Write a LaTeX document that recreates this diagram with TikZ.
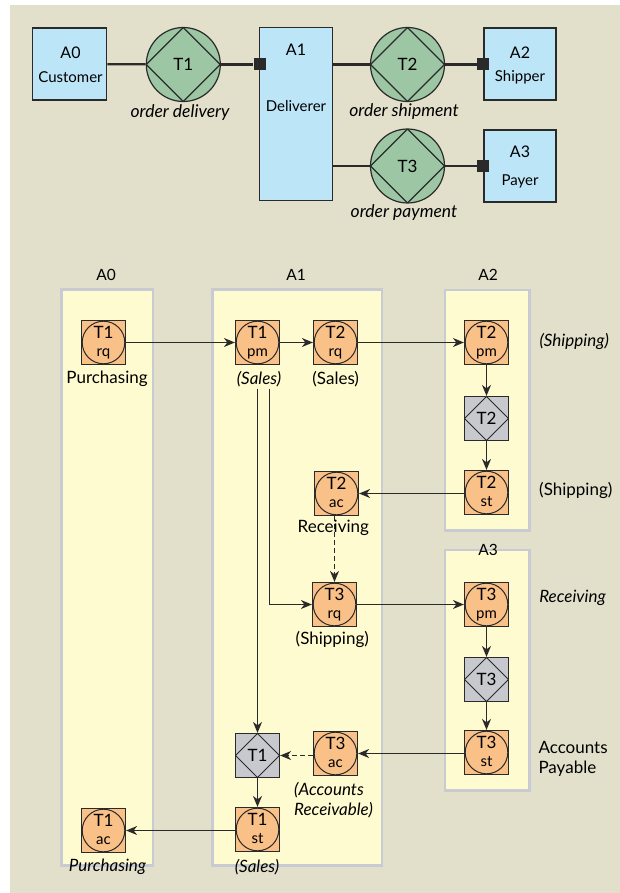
\documentclass[tikz,border=0pt]{standalone}
\usepackage{fontspec}
\setmainfont{Lato}
\usetikzlibrary{arrows.meta,shapes.geometric}
\definecolor{bgbeige}{HTML}{E2DFCB}
\definecolor{boxblue}{HTML}{BDE5F8}
\definecolor{transgreen}{HTML}{9DC7A4}
\definecolor{actorange}{HTML}{F9C087}
\definecolor{diagrey}{HTML}{C8C9CE}
\definecolor{laneyellow}{HTML}{FFFBD0}
\definecolor{laneborder}{HTML}{C8CBD2}
\definecolor{ink}{HTML}{2A2A2A}
\newcommand\actlbl[2]{#1\\{\fontsize{15}{15}\selectfont #2\vphantom{pq}}}
\begin{document}
\begin{tikzpicture}[x=1pt,y={(0pt,-1pt)},
  topline/.style={draw=ink, line width=2.2pt},
  actorbox/.style={draw=ink, line width=1.6pt, fill=boxblue, inner sep=0pt},
  trans/.style={circle, draw=ink, line width=1.2pt, fill=transgreen, minimum size=74pt, inner sep=0pt,
    font=\fontsize{17}{20}\selectfont,
    path picture={\draw[ink, line width=1.2pt] (path picture bounding box.north) -- (path picture bounding box.east) -- (path picture bounding box.south) -- (path picture bounding box.west) -- cycle;}},
  connsq/.style={rectangle, fill=ink, minimum size=12pt, inner sep=0pt},
  act/.style={rectangle, draw=ink, line width=1.2pt, fill=actorange, minimum size=44pt, inner sep=0pt, align=center,
    font=\fontsize{17}{18}\selectfont,
    path picture={\draw[ink, line width=1pt] (path picture bounding box.center) circle (21.3pt);}},
  dia/.style={rectangle, draw=ink, line width=1.2pt, fill=diagrey, minimum size=44pt, inner sep=0pt,
    font=\fontsize{17}{18}\selectfont,
    path picture={\draw[ink, line width=1pt] (path picture bounding box.north) -- (path picture bounding box.east) -- (path picture bounding box.south) -- (path picture bounding box.west) -- cycle;}},
  lane/.style={draw=laneborder, line width=2.6pt, fill=laneyellow},
  conn/.style={draw=ink, line width=1.1pt, -{Stealth[length=11pt,width=9pt,inset=3.5pt]}},
  dconn/.style={conn, line width=0.9pt, dash pattern=on 5pt off 3pt},
  lbl/.style={font=\fontsize{17}{20}\selectfont, inner sep=0pt},
  ilbl/.style={font=\fontsize{17}{20}\selectfont\itshape, inner sep=0pt},
  hdr/.style={font=\fontsize{15.5}{17}\selectfont, inner sep=0pt},
  nametxt/.style={font=\fontsize{16}{18}\selectfont, inner sep=0pt},
  roletxt/.style={font=\fontsize{15}{17}\selectfont, inner sep=0pt},
  captxt/.style={font=\fontsize{17.5}{20}\selectfont\itshape, inner sep=0pt}
]
\useasboundingbox (0,0) rectangle (620,893);
\fill[white] (0,0) rectangle (620,893);
\fill[bgbeige] (10,5) rectangle (620,893);

% ---------- top: actor/transaction model ----------
\node[actorbox, minimum width=74pt, minimum height=72pt] (a0) at (69.5,64) {};
\node[nametxt] (a0name) at (70.5,52.8) {A0};
\node[roletxt] (a0role) at (70.5,77) {Customer};

\node[actorbox, minimum width=73pt, minimum height=173pt] (a1) at (295.8,114) {};
\node[nametxt] (a1name) at (296,50) {A1};
\node[roletxt] (a1role) at (296,106.5) {Deliverer};

\node[actorbox, minimum width=72pt, minimum height=72pt] (a2) at (520,64) {};
\node[nametxt] (a2name) at (520,52.5) {A2};
\node[roletxt] (a2role) at (520,77) {Shipper};

\node[actorbox, minimum width=72pt, minimum height=72pt] (a3) at (520,166) {};
\node[nametxt] (a3name) at (520,152) {A3};
\node[roletxt] (a3role) at (520,181.5) {Payer};

\node[trans] (tt1) at (183.3,64.5) {T1};
\node[trans] (tt2) at (407.5,64.5) {T2};
\node[trans] (tt3) at (407.5,166) {T3};

\node[captxt] (c1) at (180,112.7) {order delivery};
\node[captxt] (c2) at (404,111.5) {order shipment};
\node[captxt] (c3) at (404,213) {order payment};

\draw[topline] (a0) -- (tt1);
\draw[topline] (a1.east |- tt2) -- (tt2);
\draw[topline] (a1.east |- tt3) -- (tt3);
\node[connsq] (s1) at (259.5,64.5) {};
\node[connsq] (s2) at (483,64.5) {};
\node[connsq] (s3) at (483,166) {};
\draw[topline] (tt1) -- (s1);
\draw[topline] (tt2) -- (s2);
\draw[topline] (tt3) -- (s3);
\node[connsq] at (s1) {};
\node[connsq] at (s2) {};
\node[connsq] at (s3) {};

% ---------- bottom: process model ----------
\draw[lane] (61.5,289.5) rectangle (153,865.5);
\draw[lane] (212.5,289.5) rectangle (382,865.5);
\draw[lane] (444.8,289.8) rectangle (529.5,530.2);
\draw[lane] (444.8,549.8) rectangle (529.5,790.2);

\node[hdr] (h0) at (106,275) {A0};
\node[hdr] (h1) at (296,275) {A1};
\node[hdr] (h2) at (488,275) {A2};
\node[hdr] (h3) at (488,550) {A3};

\node[act] (t1rq) at (103.5,342.5) {\actlbl{T1}{rq}};
\node[act] (t1pm) at (257.5,342.5) {\actlbl{T1}{pm}};
\node[act] (t2rq) at (335.5,342.5) {\actlbl{T2}{rq}};
\node[act] (t2pm) at (486.5,342.5) {\actlbl{T2}{pm}};
\node[dia] (t2x) at (486.5,418.5) {T2};
\node[act] (t2st) at (486.5,492.5) {\actlbl{T2}{st}};
\node[act] (t2ac) at (336.5,493.5) {\actlbl{T2}{ac}};
\node[act] (t3rq) at (334.5,604.5) {\actlbl{T3}{rq}};
\node[act] (t3pm) at (486.5,604.5) {\actlbl{T3}{pm}};
\node[dia] (t3x) at (486.5,679.5) {T3};
\node[act] (t3st) at (486.5,752.5) {\actlbl{T3}{st}};
\node[act] (t3ac) at (335.5,753.5) {\actlbl{T3}{ac}};
\node[dia] (t1x) at (257.5,755.5) {T1};
\node[act] (t1st) at (257.5,829.5) {\actlbl{T1}{st}};
\node[act] (t1ac) at (103.5,830.5) {\actlbl{T1}{ac}};

\node[lbl] (l1) at (107,378.3) {Purchasing};
\node[ilbl] (l2) at (259,379.3) {(Sales)};
\node[lbl] (l3) at (335.7,379.3) {(Sales)};
\node[ilbl] (l4) at (574.2,341.7) {(Shipping)};
\node[lbl] (l5) at (575.8,490) {(Shipping)};
\node[lbl] (l7) at (332.3,639.3) {(Shipping)};
\node[ilbl] (l8) at (572.5,598.3) {Receiving};
\node[lbl, anchor=west, align=left] (l9) at (538.3,759) {Accounts\\Payable};
\node[ilbl, anchor=west, align=left] (l10) at (294,800) {(Accounts\\Receivable)};
\node[ilbl] (l11) at (107.5,866.7) {Purchasing};
\node[ilbl] (l12) at (257,866.7) {(Sales)};

\coordinate (fork) at (269.5,388.5);

\draw[conn] (t1rq) -- (t1pm);
\draw[conn] (t1pm) -- (t2rq);
\draw[conn] (t2rq) -- (t2pm);
\draw[conn] (t2pm) -- (t2x);
\draw[conn] (t2x) -- (t2st);
\draw[conn] (t2st.west |- t2ac) -- (t2ac);
\draw[dconn] (t2ac.south -| t3rq) -- (t3rq);
\node[lbl] (l6) at (333.3,528.3) {Receiving};
\draw[conn] (t1x |- fork) -- (t1x);
\draw[conn] (fork) |- (t3rq);
\draw[conn] (t3rq) -- (t3pm);
\draw[conn] (t3pm) -- (t3x);
\draw[conn] (t3x) -- (t3st);
\draw[conn] (t3st.west |- t3ac) -- (t3ac);
\draw[dconn] (t3ac.west |- t1x) -- (t1x);
\draw[conn] (t1x) -- (t1st);
\draw[conn] (t1st.west |- t1ac) -- (t1ac);
\end{tikzpicture}
\end{document}
